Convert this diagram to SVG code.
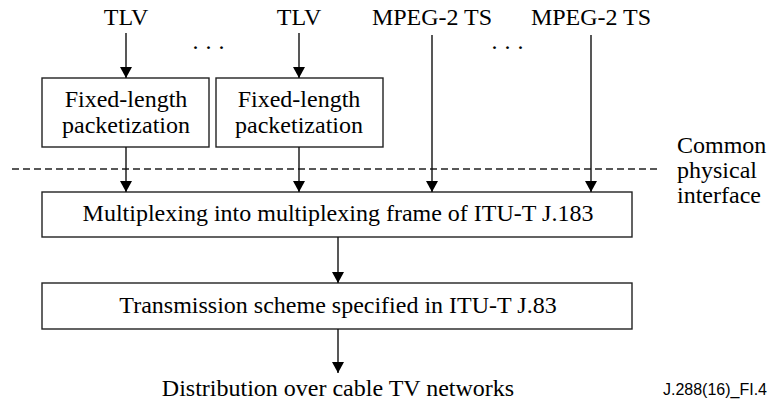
<svg xmlns="http://www.w3.org/2000/svg" width="771" height="403" viewBox="0 0 771 403">
<defs>
<marker id="ah" viewBox="0 0 11 12" refX="11" refY="6" markerWidth="11" markerHeight="12" markerUnits="userSpaceOnUse" orient="auto">
<path d="M0,0 L11,6 L0,12 z" fill="#000"/>
</marker>
</defs>
<style>
text.t{font-family:'Liberation Serif','Times New Roman',Times,serif;font-size:24px;fill:#000}
text.m{text-anchor:middle}
.box{fill:#fff;stroke:#222;stroke-width:1.4}
.ar{stroke:#111;stroke-width:1.4;fill:none;marker-end:url(#ah)}
.dash{stroke:#222;stroke-width:1.3;stroke-dasharray:7 4;fill:none}
text.s{font-family:'Liberation Sans',Arial,sans-serif;font-size:16px;fill:#000}
</style>
<rect width="771" height="403" fill="#fff"/>
<g id="labels">
<text class="t m" x="126" y="25">TLV</text>
<text class="t m" x="299" y="25">TLV</text>
<text class="t m" x="432" y="25">MPEG-2 TS</text>
<text class="t m" x="591" y="25">MPEG-2 TS</text>
<text class="t m" x="212" y="49" letter-spacing="7">...</text>
<text class="t m" x="511" y="49" letter-spacing="7">...</text>
</g>
<g id="interface">
<line class="dash" x1="12" y1="169" x2="660" y2="169"/>
<text class="t" x="677" y="153">Common</text>
<text class="t" x="677" y="178">physical</text>
<text class="t" x="677" y="203">interface</text>
</g>
<g id="pack1">
<rect class="box" x="42" y="78" width="167" height="69"/>
<text class="t m" x="126" y="107">Fixed-length</text>
<text class="t m" x="126" y="133">packetization</text>
</g>
<g id="pack2">
<rect class="box" x="216" y="78" width="167" height="69"/>
<text class="t m" x="299" y="107">Fixed-length</text>
<text class="t m" x="299" y="133">packetization</text>
</g>
<g id="mux">
<rect class="box" x="42" y="192" width="590" height="45"/>
<text class="t m" x="338" y="221">Multiplexing into multiplexing frame of ITU-T J.183</text>
</g>
<g id="tx">
<rect class="box" x="42" y="283" width="590" height="46"/>
<text class="t m" x="338" y="313">Transmission scheme specified in ITU-T J.83</text>
</g>
<g id="dist">
<text class="t m" x="338" y="396">Distribution over cable TV networks</text>
</g>
<g id="connectors">
<line class="ar" x1="126" y1="33" x2="126" y2="78"/>
<line class="ar" x1="299" y1="33" x2="299" y2="78"/>
<line class="ar" x1="126" y1="147" x2="126" y2="192"/>
<line class="ar" x1="299" y1="147" x2="299" y2="192"/>
<line class="ar" x1="432" y1="35" x2="432" y2="192"/>
<line class="ar" x1="591" y1="35" x2="591" y2="192"/>
<line class="ar" x1="338" y1="237" x2="338" y2="283"/>
<line class="ar" x1="338" y1="329" x2="338" y2="373"/>
</g>
<text class="s" x="767" y="395" text-anchor="end">J.288(16)_FI.4</text>
</svg>
